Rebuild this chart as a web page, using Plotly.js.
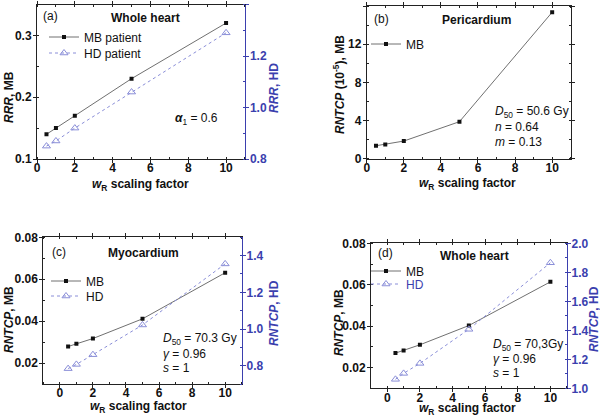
<!DOCTYPE html>
<html>
<head>
<meta charset="utf-8">
<script src="https://cdn.plot.ly/plotly-3.0.1.min.js"></script>
<style>html,body{margin:0;padding:0;background:#fff;}#chart{width:600px;height:417px;}</style>
</head>
<body>
<div id="chart"></div>
<script>
// ---- data ----
const wR = [0.5, 1, 2, 5, 10];
// (a) Whole heart RRR
const rrrMB = [0.14, 0.15, 0.17, 0.23, 0.32];
const rrrHD = [0.85, 0.87, 0.92, 1.06, 1.29];
// (b) Pericardium RNTCP (10^-5), MB
const periMB = [1.36, 1.5, 1.85, 3.88, 15.35];
// (c) Myocardium RNTCP
const myoMB = [0.0279, 0.0292, 0.0317, 0.0411, 0.0631];
const myoHD = [0.784, 0.807, 0.86, 1.022, 1.355];
// (d) Whole heart RNTCP
const whMB = [0.027, 0.0283, 0.031, 0.0403, 0.0614];
const whHD = [1.062, 1.103, 1.172, 1.407, 1.866];

const FONT = 'Liberation Sans, Arial, sans-serif';
const BLUE = '#3b3fae';
const HDC = '#8a8ed8';

function mb(x, y, xa, ya, name, leg) {
  return {x: x, y: y, xaxis: xa, yaxis: ya, name: name, legend: leg, type: 'scatter', mode: 'lines+markers',
    line: {color: '#707070', width: 1}, marker: {symbol: 'square', size: 4, color: '#111111'}};
}
function hd(x, y, xa, ya, name, leg) {
  return {x: x, y: y, xaxis: xa, yaxis: ya, name: name, legend: leg, type: 'scatter', mode: 'lines+markers',
    line: {color: HDC, width: 1, dash: 'dot'}, marker: {symbol: 'triangle-up-open', size: 7, color: HDC, line: {width: 1}}};
}

const data = [
  mb(wR, rrrMB, 'x', 'y', 'MB patient', 'legend'),
  hd(wR, rrrHD, 'x', 'y2', 'HD patient', 'legend2'),
  mb(wR, periMB, 'x2', 'y3', 'MB', 'legend3'),
  mb(wR, myoMB, 'x3', 'y4', 'MB', 'legend4'),
  hd(wR, myoHD, 'x3', 'y5', 'HD', 'legend5'),
  mb(wR, whMB, 'x4', 'y6', 'MB', 'legend6'),
  hd(wR, whHD, 'x4', 'y7', 'HD', 'legend7')
];

const tickFont = {family: FONT, size: 12, color: '#111', weight: 'bold'};
const tickFontB = {family: FONT, size: 12, color: BLUE, weight: 'bold'};
function xax(dom, anchor, range) {
  return {domain: dom, anchor: anchor, range: range, dtick: 2, tick0: 0, showgrid: false, zeroline: false, automargin: false,
    showline: true, linecolor: '#222', linewidth: 1, mirror: 'ticks', ticks: 'outside', ticklen: 3, tickwidth: 1, tickcolor: '#222',
    ticklabelstandoff: -5,
    minor: {dtick: 1, ticks: 'inside', ticklen: 2, tickcolor: '#222'},
    tickfont: tickFont};
}
function yax(dom, anchor, range, dtick, fmt, mirror) {
  return {domain: dom, anchor: anchor, range: range, dtick: dtick, showgrid: false, zeroline: false, automargin: false,
    showline: true, linecolor: '#222', linewidth: 1, mirror: mirror, ticks: 'outside', ticklen: 3, tickcolor: '#222',
    ticklabelstandoff: -1,
    minor: {dtick: dtick / 2, ticks: 'inside', ticklen: 2, tickcolor: '#222'},
    tickfont: tickFont, tickformat: fmt};
}
function y2ax(over, anchor, range, dtick) {
  return {overlaying: over, anchor: anchor, side: 'right', range: range, dtick: dtick, showgrid: false, zeroline: false, automargin: false,
    showline: true, linecolor: BLUE, linewidth: 1.5, ticks: 'outside', ticklen: 3, tickcolor: BLUE,
    ticklabelstandoff: -2,
    minor: {dtick: dtick / 2, ticks: 'inside', ticklen: 2, tickcolor: BLUE},
    tickfont: tickFontB, tickformat: '.1f'};
}

const dA = {x: [0.0617, 0.4083], y: [0.6187, 0.9892]};
const dB = {x: [0.6112, 0.9512], y: [0.6194, 0.9856]};
const dC = {x: [0.0722, 0.4028], y: [0.0791, 0.4309]};
const dD = {x: [0.6183, 0.9445], y: [0.0688, 0.4165]};

// one legend per entry; px = legend box left, py = vertical centre
function legendAt(px, py, color) {
  return {x: px / 600, y: 1 - py / 417, xanchor: 'left', yanchor: 'middle', bgcolor: 'rgba(0,0,0,0)', borderwidth: 0,
    font: {family: FONT, size: 12, color: color || '#111'}, itemwidth: 30};
}

function ann(x, y, text, opts) {
  return Object.assign({xref: 'paper', yref: 'paper', x: x / 600, y: 1 - y / 417, text: text, showarrow: false,
    xanchor: 'left', yanchor: 'middle', font: {family: FONT, size: 12, color: '#111'}}, opts || {});
}
const titleFont = {family: FONT, size: 12, color: '#111', weight: 'bold'};
const blueTitleFont = {family: FONT, size: 12, color: BLUE, weight: 'bold'};
function xt(x, y) { return ann(x, y, '<i>w</i><sub>R</sub> scaling factor', {xanchor: 'center', font: titleFont}); }
function yt(x, y, text, font) { return ann(x, y, text, {xanchor: 'center', textangle: -90, font: font || titleFont}); }

const layout = {
  width: 600, height: 417, margin: {l: 0, r: 0, t: 0, b: 0},
  paper_bgcolor: '#fff', plot_bgcolor: '#fff', showlegend: true,
  font: {family: FONT},
  xaxis: xax(dA.x, 'y', [0, 11]),
  yaxis: yax(dA.y, 'x', [0.1, 0.35], 0.1, '.1f', false),
  yaxis2: y2ax('y', 'x', [0.8, 1.4], 0.2),
  xaxis2: xax(dB.x, 'y3', [0, 11]),
  yaxis3: yax(dB.y, 'x2', [0, 16], 4, 'd', 'ticks'),
  xaxis3: xax(dC.x, 'y4', [-1, 11]),
  yaxis4: yax(dC.y, 'x3', [0.01, 0.08], 0.02, '.2f', false),
  yaxis5: y2ax('y4', 'x3', [0.7, 1.5], 0.2),
  xaxis4: xax(dD.x, 'y6', [-1, 11]),
  yaxis6: yax(dD.y, 'x4', [0.01, 0.08], 0.02, '.2f', false),
  yaxis7: y2ax('y6', 'x4', [1.0, 2.0], 0.2),
  legend: legendAt(44, 37),
  legend2: legendAt(44, 53),
  legend3: legendAt(366, 44),
  legend4: legendAt(46, 281),
  legend5: legendAt(46, 296),
  legend6: legendAt(366, 271),
  legend7: legendAt(366, 284, BLUE),
  annotations: [
    xt(140, 185), xt(467, 184), xt(138, 407), xt(467, 409),
    yt(9, 97, '<i>RRR</i>, MB'),
    yt(274, 88, '<i>RRR</i>, HD', blueTitleFont),
    yt(339, 84, '<i>RNTCP</i> (10<sup>-5</sup>), MB'),
    yt(9, 320, '<i>RNTCP</i>, MB'),
    yt(274, 313, '<i>RNTCP</i>, HD', blueTitleFont),
    yt(339, 322, '<i>RNTCP</i>, MB'),
    yt(594, 319, '<i>RNTCP</i>, HD', blueTitleFont),
    ann(41, 16, '(a)'),
    ann(145, 18, 'Whole heart', {xanchor: 'center', font: titleFont}),
    ann(173, 119, '<b><i>α</i></b><sub>1</sub> = 0.6'),
    ann(372, 19, '(b)'),
    ann(476, 20, 'Pericardium', {xanchor: 'center', font: titleFont}),
    ann(493, 112, '<i>D</i><sub>50</sub> = 50.6 Gy'),
    ann(493, 127, '<i>n</i> = 0.64'),
    ann(493, 142, '<i>m</i> = 0.13'),
    ann(50, 252, '(c)'),
    ann(143, 253, 'Myocardium', {xanchor: 'center', font: titleFont}),
    ann(161, 339, '<i>D</i><sub>50</sub> = 70.3 Gy'),
    ann(161, 354, '<i>γ</i> = 0.96'),
    ann(161, 368, '<i>s</i> = 1'),
    ann(376, 253, '(d)'),
    ann(474, 256, 'Whole heart', {xanchor: 'center', font: titleFont}),
    ann(491, 345, '<i>D</i><sub>50</sub> = 70,3Gy'),
    ann(491, 359, '<i>γ</i> = 0.96'),
    ann(491, 373, '<i>s</i> = 1')
  ]
};

Plotly.newPlot('chart', data, layout, {staticPlot: true, displayModeBar: false});
</script>
</body>
</html>
